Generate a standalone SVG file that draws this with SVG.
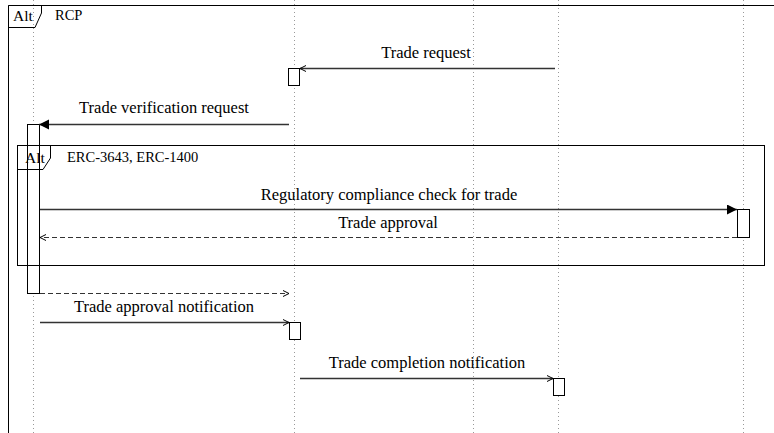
<svg xmlns="http://www.w3.org/2000/svg" width="774" height="433" viewBox="0 0 774 433">
<defs>
<marker id="open" markerUnits="userSpaceOnUse" markerWidth="10" markerHeight="10" refX="7" refY="4" orient="auto">
<path d="M1,1 L7,4 L1,7" fill="none" stroke="#000" stroke-width="1"/>
</marker>
<marker id="filled" markerUnits="userSpaceOnUse" markerWidth="12" markerHeight="12" refX="10" refY="5" orient="auto">
<path d="M0,0 L10,5 L0,10 Z" fill="#000"/>
</marker>
</defs>
<style>
text{font-family:"Liberation Serif","Times New Roman",serif;font-size:16.5px;fill:#000}
.mid{text-anchor:middle}
.small{font-size:14.5px}
.alt{font-size:15.5px}
.life{stroke:#999;stroke-width:1;stroke-dasharray:1 3;fill:none}
.frame{fill:none;stroke:#000;stroke-width:1}
.act{fill:#fff;stroke:#000;stroke-width:1}
.msg{stroke:#333;stroke-width:1.3;fill:none}
.dash{stroke:#333;stroke-width:1.2;fill:none;stroke-dasharray:5 3}
</style>
<rect width="774" height="433" fill="#fff"/>
<g id="lifelines">
<line class="life" x1="33.5" y1="0" x2="33.5" y2="433"/>
<line class="life" x1="294.5" y1="0" x2="294.5" y2="433"/>
<line class="life" x1="473.5" y1="0" x2="473.5" y2="433"/>
<line class="life" x1="558.5" y1="0" x2="558.5" y2="433"/>
<line class="life" x1="743.5" y1="0" x2="743.5" y2="433"/>
</g>
<g id="frame-rcp">
<path class="frame" d="M774,5.5 H8.5 V433"/>
<path class="frame" d="M8.5,5.5 H41.5 V13 L35,27.5 H8.5" fill="#fff"/>
<text class="alt" x="13" y="21">Alt</text>
<text class="small" x="55" y="20">RCP</text>
</g>
<g id="activations">
<rect class="act" x="27.5" y="124.5" width="12" height="169"/>
<rect class="act" x="288.5" y="68.5" width="11" height="17"/>
<rect class="act" x="737.5" y="209.5" width="12" height="28"/>
<rect class="act" x="289.5" y="322.5" width="11" height="17"/>
<rect class="act" x="553.5" y="378.5" width="11" height="17"/>
</g>
<g id="frame-erc">
<rect class="frame" x="17.5" y="145.5" width="747" height="120"/>
<path class="frame" d="M17.5,145.5 H50.5 V158 L43,169.5 H17.5 Z" fill="#fff"/>
<text class="alt" x="25" y="163">Alt</text>
<text class="small" x="67" y="162">ERC-3643, ERC-1400</text>
</g>
<g id="connectors">
<line class="msg" x1="555" y1="68.5" x2="300" y2="68.5" marker-end="url(#open)"/>
<text class="mid" x="426" y="58">Trade request</text>
<line class="msg" x1="289" y1="124.5" x2="39" y2="124.5" marker-end="url(#filled)"/>
<text class="mid" x="164" y="113">Trade verification request</text>
<line class="msg" x1="40" y1="209.5" x2="737" y2="209.5" marker-end="url(#filled)"/>
<text class="mid" x="389" y="200">Regulatory compliance check for trade</text>
<line class="dash" x1="737" y1="237.5" x2="40" y2="237.5" marker-end="url(#open)"/>
<text class="mid" x="388" y="228">Trade approval</text>
<line class="dash" x1="40" y1="293.5" x2="289" y2="293.5" marker-end="url(#open)"/>
<line class="msg" x1="40" y1="322.5" x2="289" y2="322.5" marker-end="url(#open)"/>
<text class="mid" x="164" y="312">Trade approval notification</text>
<line class="msg" x1="300" y1="378.5" x2="553" y2="378.5" marker-end="url(#open)"/>
<text class="mid" x="427" y="368">Trade completion notification</text>
</g>
</svg>
